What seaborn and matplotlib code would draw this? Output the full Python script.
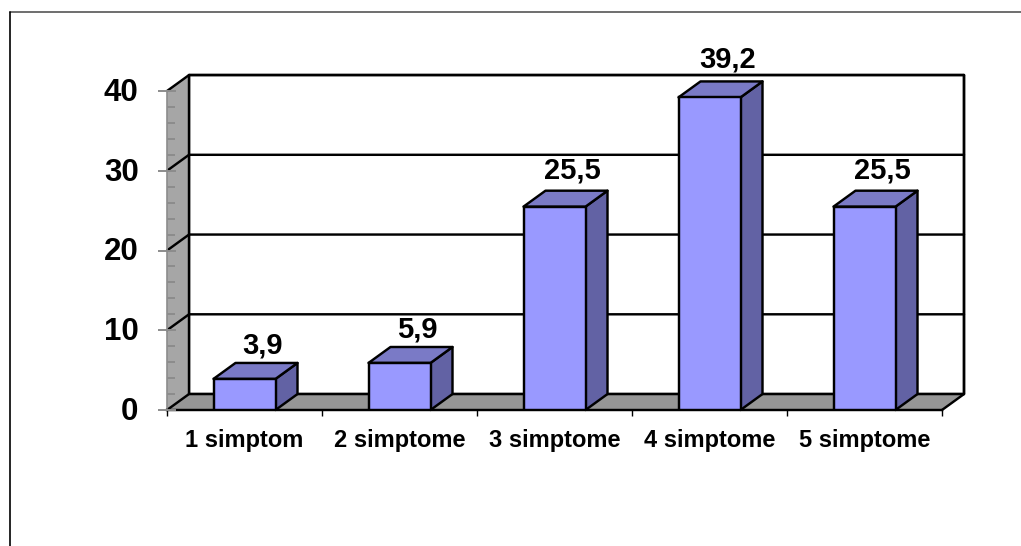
"""3D-style column chart of symptom counts."""

import matplotlib
matplotlib.use("Agg")
import matplotlib.pyplot as plt
from matplotlib.lines import Line2D
from matplotlib.patches import Polygon
from matplotlib.ticker import MultipleLocator
from matplotlib.transforms import ScaledTranslation
import seaborn as sns

categories = ["1 simptom", "2 simptome", "3 simptome", "4 simptome", "5 simptome"]
values = [3.9, 5.9, 25.5, 39.2, 25.5]
value_labels = ["3,9", "5,9", "25,5", "39,2", "25,5"]
y_ticks = [0, 10, 20, 30, 40]

# depth of the fake 3D box, in data units
DX = 22 / 155
DY = 2.0
LW = 1.75

FRONT = "#9999ff"
TOP = "#7a7ac6"
SIDE = "#6262a4"
WALL = "#a6a6a6"
FLOOR = "#969696"

sns.set_style("white")
plt.rcParams["font.family"] = ["Liberation Sans", "DejaVu Sans"]
plt.rcParams["font.weight"] = "bold"

fig = plt.figure(figsize=(10.21, 5.46), dpi=100)
ax = fig.add_axes([167 / 1021, 136 / 546, 775 / 1021, 319 / 546])

sns.barplot(x=categories, y=values, color=FRONT, saturation=1, width=0.4,
            edgecolor="black", linewidth=LW, ax=ax, zorder=5)
ax.set_xlim(-0.5, 4.5)
ax.set_ylim(0, 40)
ax.set_axisbelow(False)

left, right = ax.get_xlim()


def face(points, color, z):
    ax.add_patch(Polygon(points, closed=True, facecolor=color, edgecolor="black",
                         linewidth=LW, clip_on=False, zorder=z, joinstyle="round"))


# walls and floor
face([(left + DX, DY), (right + DX, DY), (right + DX, 40 + DY), (left + DX, 40 + DY)], "white", 1)
ax.add_patch(Polygon([(left, 0), (left, 40), (left + DX, 40 + DY), (left + DX, DY)],
                     closed=True, facecolor=WALL, edgecolor="none", clip_on=False, zorder=1.5))
ax.add_patch(Polygon([(left, 0), (right, 0), (right + DX, DY), (left + DX, DY)],
                     closed=True, facecolor=FLOOR, edgecolor="none", clip_on=False, zorder=1.5))

# gridlines wrap round the left wall
for v in y_ticks[1:]:
    ax.plot([left, left + DX, right + DX], [v, v + DY, v + DY], color="black", lw=LW,
            clip_on=False, zorder=2, solid_joinstyle="round")
ax.plot([left, left + DX, right + DX, right + DX], [0, DY, DY, 40 + DY], color="black", lw=LW,
        clip_on=False, zorder=2)
ax.plot([left + DX, left + DX], [DY, 40 + DY], color="black", lw=LW, clip_on=False, zorder=2)
ax.plot([right, right + DX], [0, DY], color="black", lw=LW, clip_on=False, zorder=2)

# side and top of every bar, taken from the seaborn patches
for bar in ax.patches[:len(values)]:
    x0, x1 = bar.get_x(), bar.get_x() + bar.get_width()
    h = bar.get_height()
    face([(x1, 0), (x1 + DX, DY), (x1 + DX, h + DY), (x1, h)], SIDE, 4)
    face([(x0, h), (x1, h), (x1 + DX, h + DY), (x0 + DX, h + DY)], TOP, 4)

# labels sit a bit further off the taller bars
for bar, label in zip(ax.patches[:len(values)], value_labels):
    h = bar.get_height()
    ax.annotate(label, (bar.get_x() + bar.get_width() / 2, h),
                xytext=(13, 17.5 + 0.11 * h), textcoords="offset points", ha="center", va="baseline",
                fontsize=21, fontweight="bold", color="black", zorder=6, annotation_clip=False)

for name in ["top", "right"]:
    ax.spines[name].set_visible(False)
ax.spines["left"].set_color("#8c8c8c")
ax.spines["left"].set_linewidth(1.2)
ax.spines["bottom"].set_color("black")
ax.spines["bottom"].set_linewidth(LW)

ax.set_yticks(y_ticks)
ax.yaxis.set_minor_locator(MultipleLocator(2))
ax.tick_params(axis="y", which="major", direction="inout", length=13, width=1.4, color="#8c8c8c",
               labelsize=22.5, pad=14, left=True)
ax.tick_params(axis="y", which="minor", direction="in", length=5.5, width=1.4, color="#8c8c8c", left=True)

ax.xaxis.set_minor_locator(MultipleLocator(1, offset=0.5))
ax.tick_params(axis="x", which="major", length=0, labelsize=17, pad=13.5, bottom=True)
ax.tick_params(axis="x", which="minor", direction="out", length=4, width=1, color="black", bottom=True)
for lab in ax.get_xticklabels() + ax.get_yticklabels():
    lab.set_fontweight("bold")
    lab.set_color("black")
# y labels sit 2 px lower than the tick centre
for lab in ax.get_yticklabels():
    lab.set_verticalalignment("center")
    lab.set_transform(lab.get_transform() + ScaledTranslation(0, -2 / 100, fig.dpi_scale_trans))

# page frame, only top and left survive the crop
fig.add_artist(Line2D([9.5 / 1021, 1], [1 - 11.5 / 546, 1 - 11.5 / 546], color="#555555", lw=1.2))
fig.add_artist(Line2D([9.5 / 1021, 9.5 / 1021], [0, 1 - 11.5 / 546], color="black", lw=1.2))

fig.savefig("out.png", dpi=100)
